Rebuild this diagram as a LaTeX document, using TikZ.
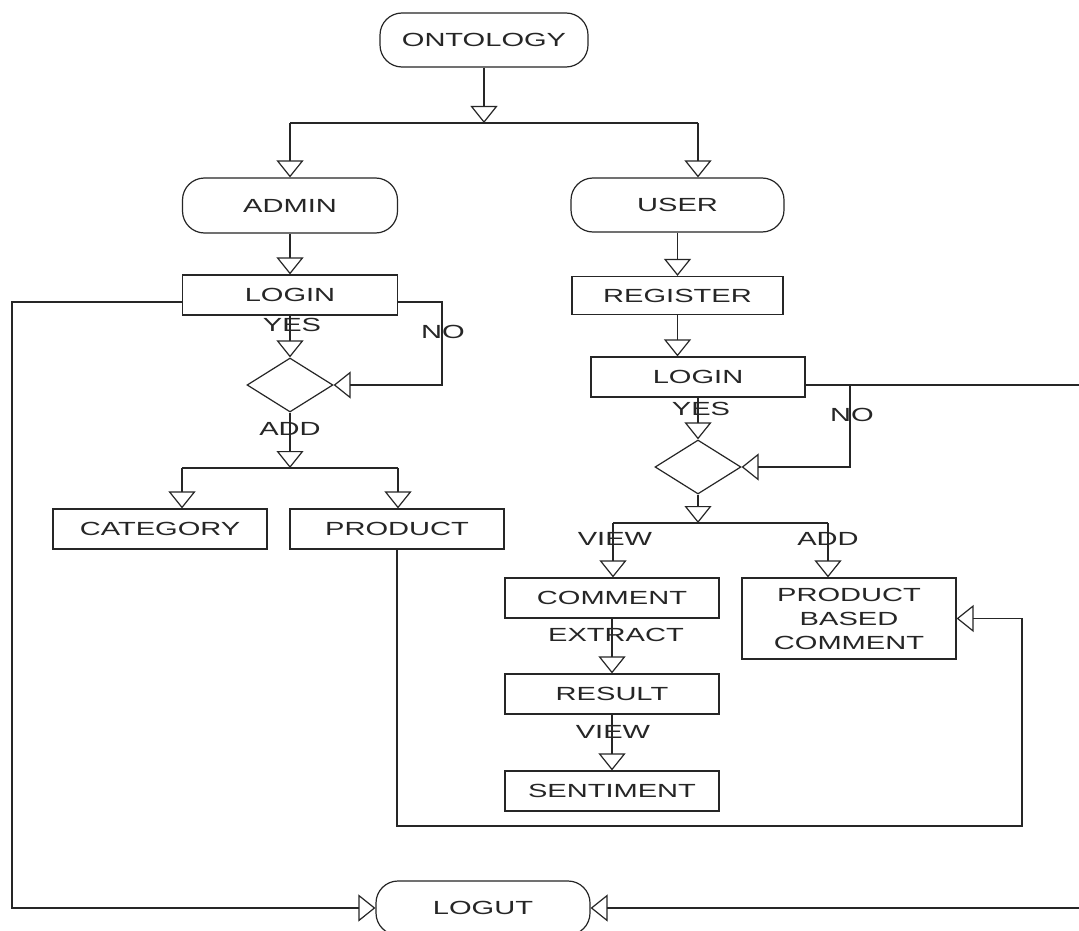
\documentclass[tikz,border=0pt]{standalone}
\usepackage{fontspec}
\setmainfont{Liberation Sans}[FakeStretch=1.53]
\usetikzlibrary{arrows.meta,shapes.geometric}
\definecolor{ink}{HTML}{262626}
\tikzset{
  base/.style={draw=ink, line width=1.2pt, inner sep=0pt, text=ink,
    font=\fontsize{19}{24}\selectfont},
  pill/.style={base, rounded corners=22pt, minimum width=213pt, minimum height=54pt},
  box/.style={base, rectangle, minimum width=214pt, minimum height=40pt},
  dec/.style={base, diamond, minimum width=86pt, minimum height=54pt},
  lbl/.style={inner sep=0pt, text=ink, font=\fontsize{19}{24}\selectfont},
  arr/.style={draw=ink, line width=1.2pt, -{Triangle[open, length=17pt, width=27pt]}},
  ln/.style={draw=ink, line width=1.2pt}
}
\begin{document}
\begin{tikzpicture}[x=1pt, y=-1pt]
\clip (0,0) rectangle (1079,931);
\fill[white] (0,0) rectangle (1079,931);

% nodes
\node[pill, minimum width=208pt] (onto) at (484,40) {ONTOLOGY};
\node[pill, minimum width=215pt, minimum height=55pt] (admin) at (290,205.5) {ADMIN};
\node[pill] (user) at (677.5,205) {USER};
\node[box, minimum width=215pt] (login1) at (290,295) {LOGIN};
\node[box, minimum width=211pt, minimum height=38pt] (register) at (677.5,295.5) {REGISTER};
\node[box] (login2) at (698,377) {LOGIN};
\node[dec] (dia1) at (290,385) {};
\node[dec] (dia2) at (698,467) {};
\node[box] (category) at (160,529) {CATEGORY};
\node[box] (product) at (397,529) {PRODUCT};
\node[box] (comment) at (612,598) {COMMENT};
\node[box, minimum height=81pt, align=center] (pbc) at (849,618.5) {PRODUCT\\BASED\\COMMENT};
\node[box] (result) at (612,694) {RESULT};
\node[box] (sentiment) at (612,791) {SENTIMENT};
\node[pill, minimum width=214pt] (logut) at (483,908) {LOGUT};

% coordinates
\coordinate (bL) at (290,123);
\coordinate (bR) at (698,123);
\coordinate (b2) at (290,468);
\coordinate (c2L) at (182,468);
\coordinate (c2R) at (398,468);
\coordinate (b3) at (698,523);
\coordinate (c3L) at (613,523);
\coordinate (c3R) at (828,523);
\coordinate (farL) at (12,302);
\coordinate (no1) at (442,302);
\coordinate (farR) at (1080.5,385);
\coordinate (no2) at (850,385);
\coordinate (loopB) at (1022,826);

% connectors
\draw[arr] (onto) -- (onto |- bL);
\draw[ln] (bL) -- (bR);
\draw[arr] (bL) -- (bL |- admin.north);
\draw[arr] (bR) -- (bR |- user.north);
\draw[arr] (admin.south) -- (login1.north);
\draw[arr] (user.south) -- (register.north);
\draw[arr] (register.south) -- (register.south |- login2.north);

\draw[arr] ([yshift=-7pt]login1.west) -- (farL) |- (logut.west);
\draw[arr] ([yshift=-7pt]login1.east) -- (no1) |- (dia1.east);
\draw[arr] (login1.south) -- (dia1.north);
\draw[arr] (dia1.south) -- (b2);
\draw[ln] (c2L) -- (c2R);
\draw[arr] (c2L) -- (c2L |- category.north);
\draw[arr] (c2R) -- (c2R |- product.north);
\draw[arr] (product.south) |- (loopB) |- (pbc.east);

\draw[arr] ([yshift=-8pt]login2.east) -- (farR) |- (logut.east);
\draw[arr] (no2) |- (dia2.east);
\draw[arr] (login2.south) -- (dia2.north);
\draw[arr] (dia2.south) -- (b3);
\draw[ln] (c3L) -- (c3R);
\draw[arr] (c3L) -- (c3L |- comment.north);
\draw[arr] (c3R) -- (c3R |- pbc.north);
\draw[arr] (comment.south) -- (result.north);
\draw[arr] (result.south) -- (sentiment.north);

% labels
\node[lbl] (yes1) at (292,325) {YES};
\node[lbl] (no1l) at (443,332) {NO};
\node[lbl] (add1) at (290,429) {ADD};
\node[lbl] (yes2) at (701,409) {YES};
\node[lbl] (no2l) at (852,415) {NO};
\node[lbl] (view1) at (615,539) {VIEW};
\node[lbl] (add2) at (828,539) {ADD};
\node[lbl] (extract) at (616,635) {EXTRACT};
\node[lbl] (view2) at (613,732) {VIEW};
\end{tikzpicture}
\end{document}
